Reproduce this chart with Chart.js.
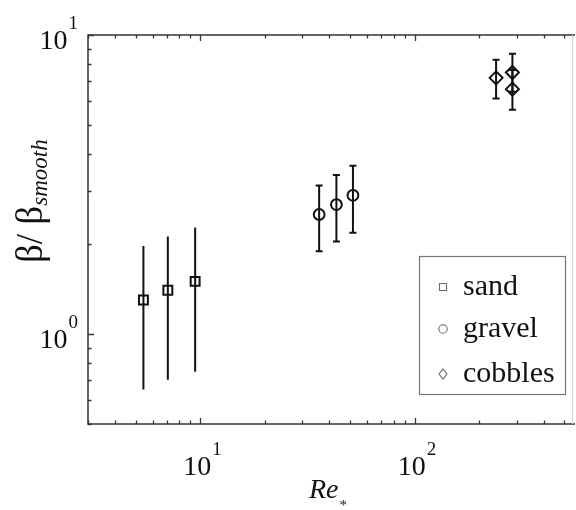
<!DOCTYPE html>
<html>
<head>
<meta charset="utf-8">
<script src="https://cdn.jsdelivr.net/npm/chart.js@4/dist/chart.umd.min.js"></script>
<style>
  html, body { margin: 0; padding: 0; background: #fff; }
  #wrap { width: 576px; height: 510px; }
</style>
</head>
<body>
<div id="wrap"><canvas id="c" width="576" height="510"></canvas></div>
<script>
// Roughness Reynolds number Re* and normalized coefficient β/β_smooth
const sandRe      = [5.44, 7.07, 9.48];
const sandBeta    = [1.30, 1.40, 1.50];
const sandLow     = [0.652, 0.703, 0.748];
const sandHigh    = [1.97, 2.12, 2.27];

const gravelRe    = [35.9, 43.2, 51.6];
const gravelBeta  = [2.51, 2.71, 2.91];
const gravelLow   = [1.89, 2.04, 2.18];
const gravelHigh  = [3.14, 3.40, 3.65];

const cobblesRe   = [240, 286, 286];
const cobblesBeta = [7.19, 7.49, 6.59];
const cobblesLow  = [6.13, 6.46, 5.62];
const cobblesHigh = [8.27, 8.66, 7.64];

const seriesNames = ['sand', 'gravel', 'cobbles'];
const xTickDecades = [1, 2];      // labelled as 10^1, 10^2
const yTickDecades = [0, 1];      // labelled as 10^0, 10^1
const xRange = [3, 560];
const yRange = [0.5, 10];

function toPoints(xs, ys, lo, hi) {
  return xs.map((x, i) => ({ x: x, y: ys[i], lo: lo[i], hi: hi[i] }));
}

const SERIF = '"Liberation Serif", "DejaVu Serif", serif';
const INK = '#111';

// Vertical error bars drawn through the chart's own scales
const errorBars = {
  id: 'errorBars',
  beforeDatasetsDraw(chart) {
    const ctx = chart.ctx, xs = chart.scales.x, ys = chart.scales.y;
    chart.data.datasets.forEach((ds) => {
      ctx.save();
      ctx.strokeStyle = INK;
      ctx.lineWidth = 2;
      ds.data.forEach((p) => {
        const px = xs.getPixelForValue(p.x);
        const top = ys.getPixelForValue(p.hi);
        const bot = ys.getPixelForValue(p.lo);
        ctx.beginPath();
        ctx.moveTo(px, top);
        ctx.lineTo(px, bot);
        const cap = ds.capHalf;
        if (cap > 0) {
          ctx.moveTo(px - cap, top); ctx.lineTo(px + cap, top);
          ctx.moveTo(px - cap, bot); ctx.lineTo(px + cap, bot);
        }
        ctx.stroke();
      });
      ctx.restore();
    });
  }
};

function minorValues(min, max) {
  const out = [];
  for (let e = Math.floor(Math.log10(min)); e <= Math.ceil(Math.log10(max)); e++) {
    for (let m = 1; m <= 9; m++) {
      const v = m * Math.pow(10, e);
      if (v >= min * 0.999 && v <= max * 1.001) out.push({ v: v, major: m === 1 });
    }
  }
  return out;
}

function powerLabel(ctx, exp, x, y, align) {
  // "10" with a raised exponent; (x, y) is the anchor of the whole label
  ctx.font = '28px ' + SERIF;
  const baseW = ctx.measureText('10').width;
  ctx.font = '19px ' + SERIF;
  const supW = ctx.measureText(String(exp)).width;
  let left;
  if (align === 'center') left = x - (baseW + supW) / 2;
  else left = x - baseW - supW; // right aligned
  ctx.textAlign = 'left';
  ctx.textBaseline = 'alphabetic';
  ctx.font = '28px ' + SERIF;
  ctx.fillText('10', left, y);
  ctx.font = '19px ' + SERIF;
  ctx.fillText(String(exp), left + baseW + 1, y - 20);
}

// Frame, inward ticks, tick labels, axis titles and legend
const frame = {
  id: 'frame',
  afterDraw(chart) {
    const ctx = chart.ctx, a = chart.chartArea;
    const xs = chart.scales.x, ys = chart.scales.y;
    ctx.save();
    ctx.fillStyle = INK;

    // box
    ctx.strokeStyle = '#333';
    ctx.lineWidth = 1.5;
    ctx.beginPath();
    ctx.moveTo(a.right, a.top); ctx.lineTo(a.left, a.top);
    ctx.lineTo(a.left, a.bottom); ctx.lineTo(a.right, a.bottom);
    ctx.stroke();
    ctx.strokeStyle = '#d4d4d4';
    ctx.lineWidth = 1;
    ctx.beginPath();
    ctx.moveTo(a.right - 2.5, a.top); ctx.lineTo(a.right - 2.5, a.bottom);
    ctx.stroke();

    // ticks
    ctx.strokeStyle = '#333';
    ctx.lineWidth = 1.3;
    ctx.beginPath();
    minorValues(xRange[0], xRange[1]).forEach((t) => {
      const px = Math.round(xs.getPixelForValue(t.v)) + 0.5;
      const len = t.major ? 6 : 3.5;
      ctx.moveTo(px, a.bottom); ctx.lineTo(px, a.bottom - len);
      ctx.moveTo(px, a.top); ctx.lineTo(px, a.top + len);
    });
    minorValues(yRange[0], yRange[1]).forEach((t) => {
      const py = Math.round(ys.getPixelForValue(t.v)) + 0.5;
      const len = t.major ? 6 : 3.5;
      ctx.moveTo(a.left, py); ctx.lineTo(a.left + len, py);
    });
    ctx.stroke();

    // tick labels
    xTickDecades.forEach((e) => {
      const px = xs.getPixelForValue(Math.pow(10, e));
      powerLabel(ctx, e, px + 2, a.bottom + 51, 'center');
    });
    yTickDecades.forEach((e) => {
      const py = ys.getPixelForValue(Math.pow(10, e));
      powerLabel(ctx, e, a.left - 11, py + 14, 'right');
    });

    // x title: Re*
    ctx.textBaseline = 'alphabetic';
    ctx.textAlign = 'left';
    ctx.font = 'italic 28px ' + SERIF;
    const reW = ctx.measureText('Re').width;
    const xt = 309;
    ctx.fillText('Re', xt, 498);
    ctx.font = '15px ' + SERIF;
    ctx.textBaseline = 'middle';
    ctx.fillText('*', xt + reW + 1, 506);

    // y title: β/β_smooth (rotated)
    ctx.save();
    ctx.translate(42, 263);
    ctx.rotate(-Math.PI / 2);
    ctx.textBaseline = 'alphabetic';
    ctx.font = '37px ' + SERIF;
    const mainT = 'β/ β';
    ctx.fillText(mainT, 0, 0);
    const mw = ctx.measureText(mainT).width;
    ctx.font = 'italic 23px ' + SERIF;
    ctx.fillText('smooth', mw, 5);
    ctx.restore();

    // legend
    const lx = 419.5, ly = 256.5, lw = 146, lh = 138;
    ctx.fillStyle = '#fff';
    ctx.fillRect(lx, ly, lw, lh);
    ctx.strokeStyle = '#777';
    ctx.lineWidth = 1.2;
    ctx.strokeRect(lx, ly, lw, lh);
    const rows = [287, 329, 374];
    ctx.font = '30px ' + SERIF;
    ctx.textBaseline = 'middle';
    chart.data.datasets.forEach((ds, i) => {
      const cy = rows[i], cx = 443;
      ctx.strokeStyle = '#6a6a6a';
      ctx.lineWidth = 1.1;
      ctx.beginPath();
      if (ds.pointStyle === 'rect') {
        ctx.rect(cx - 3.5, cy - 3.5, 7, 7);
      } else if (ds.pointStyle === 'circle') {
        ctx.arc(cx, cy, 4.2, 0, Math.PI * 2);
      } else {
        ctx.moveTo(cx, cy - 5); ctx.lineTo(cx + 4, cy);
        ctx.lineTo(cx, cy + 5); ctx.lineTo(cx - 4, cy); ctx.closePath();
      }
      ctx.stroke();
      ctx.fillStyle = INK;
      ctx.fillText(ds.label, 463, cy);
    });
    ctx.restore();
  }
};

new Chart(document.getElementById('c'), {
  type: 'scatter',
  data: {
    datasets: [
      { label: seriesNames[0], data: toPoints(sandRe, sandBeta, sandLow, sandHigh),
        pointStyle: 'rect', pointRadius: 6.3, capHalf: 0 },
      { label: seriesNames[1], data: toPoints(gravelRe, gravelBeta, gravelLow, gravelHigh),
        pointStyle: 'circle', pointRadius: 5.4, capHalf: 3.5 },
      { label: seriesNames[2], data: toPoints(cobblesRe, cobblesBeta, cobblesLow, cobblesHigh),
        pointStyle: 'rectRot', pointRadius: 6.5, capHalf: 3.5 }
    ].map((d) => Object.assign(d, {
      borderColor: INK, backgroundColor: 'rgba(0,0,0,0)', pointBorderWidth: 2,
      pointHoverRadius: d.pointRadius
    }))
  },
  options: {
    responsive: false,
    animation: false,
    layout: { autoPadding: false, padding: { left: 88, top: 35, right: 1, bottom: 86 } },
    plugins: { legend: { display: false }, tooltip: { enabled: false } },
    scales: {
      x: { type: 'logarithmic', min: xRange[0], max: xRange[1], display: false },
      y: { type: 'logarithmic', min: yRange[0], max: yRange[1], display: false }
    }
  },
  plugins: [errorBars, frame]
});
</script>
</body>
</html>
